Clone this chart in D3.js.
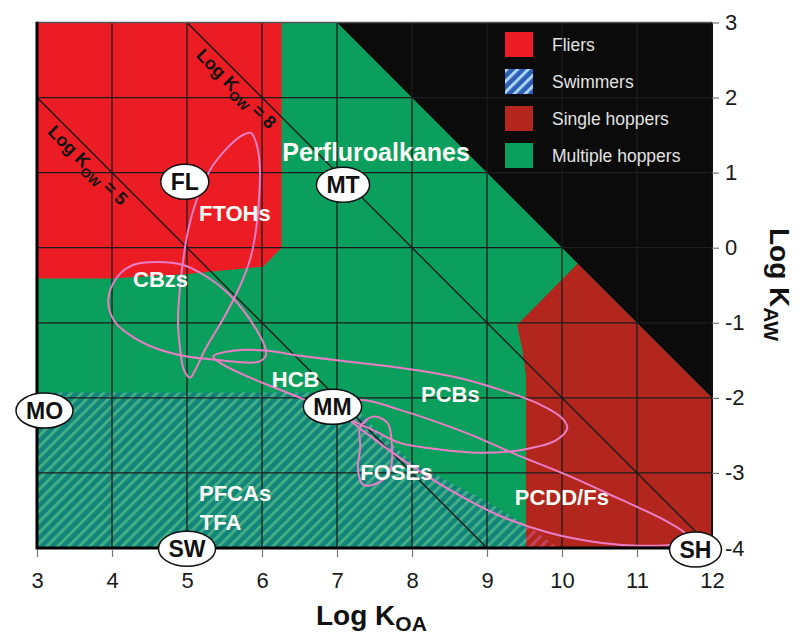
<!DOCTYPE html>
<html><head><meta charset="utf-8">
<script src="https://cdn.jsdelivr.net/npm/d3@7"></script>
<style>
body{margin:0;background:#fff;}
svg{display:block;font-family:"Liberation Sans",Arial,Helvetica,sans-serif;}
</style></head><body>
<svg id="chart" width="801" height="635"></svg>
<script>
// ---- axis ticks ----
const xTicks = d3.range(3, 13);      // log KOA
const yTicks = d3.range(-4, 4);      // log KAW

// ---- zones of chemical space, in (log KOA, log KAW) ----
const fliersZone = [[3,3],[6.26,3],[6.26,0.0],[6.02,-0.25],[5.0,-0.35],[3.97,-0.41],[3,-0.41]];
const blackZone = [[7,3],[12,3],[12,-2]];
const singleHopperZone = [[9.4,-1.03],[10.21,-0.21],[12,-2],[12,-4],[9.52,-4],[9.52,-1.7],[9.47,-1.35]];
const swimmerZone = [[3,-1.93],[7.05,-1.93],[7.6,-2.5],[8.0,-2.85],[8.5,-3.12],[9.0,-3.38],[9.5,-3.68],[9.95,-4],[3,-4]];

// ---- log KOW isopleths: log KOA + log KAW = kow ----
const kowValues = [5, 8];
const kowStart = [3, 5];
const kowEnd = [9, 12];
const kowLabelAt = [3.79, 5.77];

// ---- chemical class outlines ----
const ftohs = [[5.85,1.53],[5.93,1.37],[5.97,1.10],[5.96,0.64],[5.91,0.17],[5.84,-0.16],[5.71,-0.50],[5.51,-0.90],[5.24,-1.36],[5.11,-1.63],[5.04,-1.73],[4.96,-1.63],[4.91,-1.36],[4.88,-0.96],[4.91,-0.50],[4.95,-0.16],[5.01,0.21],[5.13,0.64],[5.31,1.04],[5.51,1.30],[5.71,1.48]];
const cbzs = [[3.95,-0.70],[4.07,-0.39],[4.28,-0.23],[4.60,-0.19],[4.95,-0.23],[5.27,-0.39],[5.53,-0.59],[5.75,-0.83],[5.93,-1.10],[6.04,-1.32],[6.05,-1.44],[5.95,-1.52],[5.64,-1.52],[5.35,-1.49],[5.00,-1.45],[4.64,-1.36],[4.28,-1.19],[4.04,-0.99]];
const pcbs = [[5.35,-1.45],[5.64,-1.37],[6.04,-1.37],[6.51,-1.44],[7.17,-1.52],[7.84,-1.60],[8.51,-1.71],[9.17,-1.89],[9.71,-2.09],[10.00,-2.27],[10.07,-2.40],[9.93,-2.56],[9.48,-2.69],[8.91,-2.73],[8.24,-2.67],[7.84,-2.60],[7.48,-2.43],[7.08,-2.25],[6.51,-2.00],[5.84,-1.73],[5.47,-1.55]];
const foses = [[7.31,-2.39],[7.48,-2.25],[7.67,-2.33],[7.73,-2.60],[7.71,-2.96],[7.57,-3.12],[7.35,-3.16],[7.28,-2.96],[7.31,-2.65]];
const pcdds = [[7.04,-2.09],[7.33,-2.03],[7.84,-2.16],[8.73,-2.47],[9.40,-2.76],[10.07,-3.03],[10.73,-3.33],[11.31,-3.60],[11.64,-3.80],[11.71,-3.89],[11.51,-3.95],[11.04,-3.97],[10.51,-3.93],[9.84,-3.80],[9.17,-3.57],[8.51,-3.23],[7.97,-2.89],[7.51,-2.56],[7.17,-2.29]];
const outlines = [ftohs, cbzs, pcbs, foses, pcdds];

// ---- class names (anchor at start of text) ----
const classNames = ["Perfluroalkanes","FTOHs","CBzs","HCB","PCBs","FOSEs","PFCAs","TFA","PCDD/Fs"];
const classX = [6.27, 5.16, 4.28, 6.13, 8.12, 7.31, 5.16, 5.17, 9.37];
const classY = [1.15, 0.35, -0.52, -1.85, -2.05, -3.09, -3.38, -3.76, -3.43];

// ---- transport mode stations ----
const stationNames = ["FL","MT","MO","MM","SW","SH"];
const stationX = [4.97, 7.08, 3.10, 6.94, 5.00, 11.78];
const stationY = [0.88, 0.84, -2.17, -2.12, -4.01, -4.02];

// ---- legend ----
const legendNames = ["Fliers","Swimmers","Single hoppers","Multiple hoppers"];

const C = {
  green: "#0A9F5C", red: "#EC1C24", darkRed: "#B3261E", black: "#0B0B0B",
  pink: "#EA7DC4", grid: "#1c1c1c"
};

const svg = d3.select("#chart");
const x = d3.scaleLinear().domain([3, 12]).range([37, 712]);
const y = d3.scaleLinear().domain([-4, 3]).range([548, 22.5]);
const [X0, X1] = x.range();
const [Y0, Y1] = [y(3), y(-4)];

const polyPath = d3.line().x(d => x(d[0])).y(d => y(d[1]));
const closedPoly = pts => polyPath(pts) + "Z";
const blob = d3.line().x(d => x(d[0])).y(d => y(d[1])).curve(d3.curveCatmullRomClosed.alpha(0.5));

const defs = svg.append("defs");
defs.append("clipPath").attr("id", "plotClip")
  .append("rect").attr("x", X0).attr("y", Y0).attr("width", X1 - X0).attr("height", Y1 - Y0);
defs.append("clipPath").attr("id", "hopperClip")
  .append("path").attr("d", closedPoly(singleHopperZone));

function hatch(id, base, stripe, period, width) {
  const p = defs.append("pattern").attr("id", id)
    .attr("patternUnits", "userSpaceOnUse")
    .attr("width", period).attr("height", period)
    .attr("patternTransform", "rotate(45)");
  if (base) p.append("rect").attr("width", period).attr("height", period).attr("fill", base);
  p.append("rect").attr("width", width).attr("height", period).attr("fill", stripe);
}
hatch("hatchTeal", "#12857A", "#43AE86", 7.6, 3);
hatch("hatchRed", null, "rgba(205,95,140,0.55)", 7.6, 3);
hatch("hatchBlue", "#2D5FB6", "#A9D4F2", 7.6, 3);

const plot = svg.append("g").attr("clip-path", "url(#plotClip)");

// zones
plot.append("rect").attr("x", X0).attr("y", Y0).attr("width", X1 - X0).attr("height", Y1 - Y0).attr("fill", C.green);
plot.append("path").attr("d", closedPoly(fliersZone)).attr("fill", C.red);
plot.append("path").attr("d", closedPoly(swimmerZone)).attr("fill", "url(#hatchTeal)");
plot.append("path").attr("d", closedPoly(singleHopperZone)).attr("fill", C.darkRed);
plot.append("path").attr("d", closedPoly(swimmerZone)).attr("fill", "url(#hatchRed)").attr("clip-path", "url(#hopperClip)");
plot.append("path").attr("d", closedPoly(blackZone)).attr("fill", C.black);

// grid
plot.append("g").selectAll("line").data(xTicks.slice(1, -1)).join("line")
  .attr("x1", d => x(d)).attr("x2", d => x(d)).attr("y1", Y0).attr("y2", Y1)
  .attr("stroke", C.grid).attr("stroke-width", 1.3);
plot.append("g").selectAll("line").data(yTicks.slice(1, -1)).join("line")
  .attr("y1", d => y(d)).attr("y2", d => y(d)).attr("x1", X0).attr("x2", X1)
  .attr("stroke", C.grid).attr("stroke-width", 1.3);

// KOW isopleths
kowValues.forEach((k, i) => {
  plot.append("line")
    .attr("x1", x(kowStart[i])).attr("y1", y(k - kowStart[i]))
    .attr("x2", x(kowEnd[i])).attr("y2", y(k - kowEnd[i]))
    .attr("stroke", C.grid).attr("stroke-width", 1.4);
});

// class outlines
plot.append("g").selectAll("path").data(outlines).join("path")
  .attr("d", blob).attr("fill", "none").attr("stroke", C.pink).attr("stroke-width", 2);

// class names
svg.append("g").selectAll("text").data(classNames).join("text")
  .attr("x", (d, i) => x(classX[i])).attr("y", (d, i) => y(classY[i]))
  .attr("fill", "#fbfbf6").attr("font-weight", "bold")
  .attr("font-size", (d, i) => i === 0 ? 25 : 22)
  .text(d => d);

// KOW labels, rotated along the isopleths
kowValues.forEach((k, i) => {
  const fx = x(kowLabelAt[i]), fy = y(k - kowLabelAt[i]);
  const off = 18;
  const t = svg.append("text")
    .attr("transform", `translate(${fx - off * Math.SQRT1_2},${fy + off * Math.SQRT1_2}) rotate(45)`)
    .attr("text-anchor", "middle").attr("font-size", 18).attr("font-weight", "bold").attr("fill", "#111");
  t.append("tspan").text("Log K");
  t.append("tspan").attr("font-size", 13).attr("dy", 5).text("OW");
  t.append("tspan").attr("dy", -5).text(" = " + k);
});

// frame
svg.append("line").attr("x1", X0).attr("x2", X1).attr("y1", Y0).attr("y2", Y0).attr("stroke", "#555").attr("stroke-width", 1.5);
svg.append("line").attr("x1", X1).attr("x2", X1).attr("y1", Y0).attr("y2", Y1).attr("stroke", "#111").attr("stroke-width", 2);
svg.append("line").attr("x1", X0).attr("x2", X0).attr("y1", Y0 - 0.75).attr("y2", Y1 + 1.5).attr("stroke", "#000").attr("stroke-width", 3);
svg.append("line").attr("x1", X0).attr("x2", X1).attr("y1", Y1).attr("y2", Y1).attr("stroke", "#000").attr("stroke-width", 3);

// axes
const xAxis = svg.append("g").attr("transform", `translate(0,${Y1 + 1})`)
  .call(d3.axisBottom(x).tickValues(xTicks).tickFormat(d => String(d)).tickSize(8).tickPadding(15));
const yAxis = svg.append("g").attr("transform", `translate(${X1},0)`)
  .call(d3.axisRight(y).tickValues(yTicks).tickFormat(d => String(d)).tickSize(7).tickPadding(6));
[xAxis, yAxis].forEach(a => {
  a.select(".domain").remove();
  a.selectAll(".tick line").attr("stroke", "#777").attr("stroke-width", 1.2);
  a.selectAll(".tick text").attr("font-size", 22).attr("fill", "#1a1a1a")
    .attr("font-family", "'Liberation Sans', Arial, sans-serif");
});

// axis titles
const xt = svg.append("text").attr("x", 316).attr("y", 625).attr("font-size", 28).attr("font-weight", "bold").attr("fill", "#111");
xt.append("tspan").text("Log K");
xt.append("tspan").attr("font-size", 21).attr("dy", 6).text("OA");
const yt = svg.append("text").attr("transform", "translate(770,228) rotate(90)").attr("font-size", 28).attr("font-weight", "bold").attr("fill", "#111");
yt.append("tspan").text("Log K");
yt.append("tspan").attr("font-size", 21).attr("dy", 6).text("AW");

// stations
const st = svg.append("g").selectAll("g").data(stationNames).join("g")
  .attr("transform", (d, i) => `translate(${x(stationX[i])},${y(stationY[i])})`);
st.append("ellipse").attr("fill", "#fff").attr("stroke", "#111").attr("stroke-width", 1.5).attr("ry", 17.5);
st.append("text").attr("text-anchor", "middle").attr("dy", "0.36em")
  .attr("font-size", 23).attr("font-weight", "bold").attr("fill", "#111").text(d => d);
st.each(function () {
  const g = d3.select(this);
  const w = g.select("text").node().getComputedTextLength();
  g.select("ellipse").attr("rx", w / 2 + 10);
});

// legend
const legendSwatch = [C.red, "url(#hatchBlue)", C.darkRed, C.green];
const lg = svg.append("g").selectAll("g").data(legendNames).join("g")
  .attr("transform", (d, i) => `translate(505,${32 + i * 37})`);
lg.append("rect").attr("width", 28).attr("height", 25).attr("fill", (d, i) => legendSwatch[i]);
lg.append("text").attr("x", 47).attr("y", 18.5).attr("font-size", 17.5).attr("fill", "#e2e2e2").text(d => d);
</script>
</body></html>
